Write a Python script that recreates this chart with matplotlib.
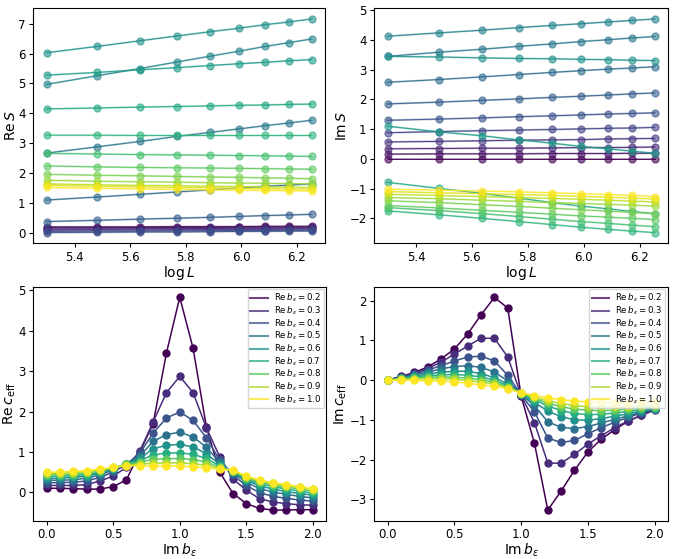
import numpy as np
import matplotlib
import matplotlib.pyplot as plt

matplotlib.use('Agg')

# system sizes, top row x axis is log L
L = [200, 240, 280, 320, 360, 400, 440, 480, 520]

# Re S, one row per Im b (0.0 ... 2.0)
re_S = [
    [0.20, 0.20, 0.20, 0.21, 0.21, 0.21, 0.22, 0.22, 0.22],
    [0.17, 0.17, 0.18, 0.18, 0.18, 0.19, 0.19, 0.19, 0.19],
    [0.13, 0.13, 0.14, 0.14, 0.15, 0.15, 0.15, 0.16, 0.16],
    [0.09, 0.10, 0.10, 0.11, 0.11, 0.12, 0.12, 0.12, 0.13],
    [0.05, 0.06, 0.06, 0.07, 0.07, 0.08, 0.08, 0.09, 0.09],
    [0.01, 0.02, 0.03, 0.03, 0.04, 0.05, 0.05, 0.06, 0.06],
    [0.38, 0.42, 0.46, 0.49, 0.52, 0.55, 0.58, 0.60, 0.62],
    [1.10, 1.20, 1.29, 1.37, 1.44, 1.50, 1.56, 1.60, 1.64],
    [2.67, 2.88, 3.06, 3.23, 3.36, 3.48, 3.59, 3.68, 3.77],
    [4.97, 5.26, 5.50, 5.72, 5.91, 6.08, 6.24, 6.37, 6.49],
    [6.03, 6.24, 6.43, 6.59, 6.73, 6.85, 6.97, 7.06, 7.16],
    [5.28, 5.37, 5.46, 5.53, 5.60, 5.66, 5.71, 5.76, 5.80],
    [4.15, 4.18, 4.21, 4.23, 4.25, 4.27, 4.28, 4.30, 4.31],
    [3.27, 3.27, 3.26, 3.26, 3.26, 3.26, 3.26, 3.26, 3.26],
    [2.66, 2.64, 2.62, 2.61, 2.60, 2.59, 2.58, 2.57, 2.56],
    [2.24, 2.21, 2.19, 2.18, 2.17, 2.16, 2.15, 2.14, 2.13],
    [1.96, 1.93, 1.91, 1.89, 1.87, 1.86, 1.84, 1.83, 1.81],
    [1.76, 1.73, 1.71, 1.70, 1.68, 1.67, 1.66, 1.65, 1.64],
    [1.64, 1.61, 1.59, 1.58, 1.56, 1.55, 1.54, 1.53, 1.52],
    [1.59, 1.56, 1.54, 1.52, 1.51, 1.49, 1.48, 1.47, 1.46],
    [1.52, 1.49, 1.47, 1.46, 1.44, 1.43, 1.42, 1.41, 1.40],
]

# Im S, same rows
im_S = [
    [0.00, 0.00, 0.00, 0.00, 0.00, 0.00, 0.00, 0.00, 0.00],
    [0.16, 0.17, 0.17, 0.17, 0.18, 0.18, 0.18, 0.19, 0.19],
    [0.34, 0.35, 0.36, 0.36, 0.37, 0.38, 0.38, 0.39, 0.40],
    [0.57, 0.59, 0.61, 0.63, 0.64, 0.65, 0.67, 0.68, 0.69],
    [0.88, 0.92, 0.95, 0.97, 0.99, 1.01, 1.03, 1.04, 1.06],
    [1.30, 1.34, 1.38, 1.42, 1.45, 1.48, 1.51, 1.53, 1.55],
    [1.85, 1.91, 1.97, 2.02, 2.07, 2.11, 2.15, 2.19, 2.22],
    [2.58, 2.67, 2.76, 2.84, 2.91, 2.97, 3.02, 3.06, 3.10],
    [3.45, 3.59, 3.69, 3.79, 3.87, 3.95, 4.01, 4.07, 4.12],
    [4.13, 4.24, 4.33, 4.42, 4.49, 4.55, 4.61, 4.66, 4.71],
    [3.45, 3.43, 3.40, 3.38, 3.37, 3.35, 3.34, 3.32, 3.31],
    [1.10, 0.91, 0.78, 0.64, 0.53, 0.42, 0.34, 0.26, 0.19],
    [-0.79, -0.99, -1.16, -1.32, -1.47, -1.59, -1.68, -1.77, -1.84],
    [-1.75, -1.88, -2.00, -2.11, -2.21, -2.30, -2.37, -2.43, -2.48],
    [-1.64, -1.74, -1.84, -1.94, -2.03, -2.11, -2.17, -2.23, -2.28],
    [-1.57, -1.65, -1.73, -1.80, -1.86, -1.92, -1.96, -2.00, -2.04],
    [-1.41, -1.47, -1.54, -1.60, -1.66, -1.71, -1.76, -1.80, -1.84],
    [-1.30, -1.34, -1.39, -1.43, -1.47, -1.50, -1.53, -1.56, -1.59],
    [-1.19, -1.23, -1.27, -1.30, -1.33, -1.36, -1.39, -1.42, -1.45],
    [-1.10, -1.14, -1.17, -1.20, -1.23, -1.26, -1.29, -1.32, -1.35],
    [-1.02, -1.05, -1.08, -1.11, -1.14, -1.17, -1.20, -1.23, -1.27],
]

# bottom row: Im b on x, one curve per Re b
im_b = [0.0, 0.1, 0.2, 0.3, 0.4, 0.5, 0.6, 0.7, 0.8, 0.9, 1.0,
        1.1, 1.2, 1.3, 1.4, 1.5, 1.6, 1.7, 1.8, 1.9, 2.0]
re_b = [0.2, 0.3, 0.4, 0.5, 0.6, 0.7, 0.8, 0.9, 1.0]

# Re c_eff, rows are Im b values, columns Re b
re_c_rows = [
    [0.10, 0.17, 0.24, 0.30, 0.35, 0.40, 0.44, 0.47, 0.50],
    [0.10, 0.17, 0.24, 0.30, 0.35, 0.40, 0.44, 0.47, 0.50],
    [0.09, 0.17, 0.25, 0.31, 0.37, 0.41, 0.45, 0.49, 0.52],
    [0.08, 0.19, 0.28, 0.35, 0.40, 0.44, 0.48, 0.51, 0.54],
    [0.08, 0.28, 0.37, 0.43, 0.47, 0.50, 0.53, 0.55, 0.57],
    [0.14, 0.40, 0.50, 0.55, 0.58, 0.60, 0.61, 0.62, 0.62],
    [0.31, 0.62, 0.69, 0.71, 0.71, 0.70, 0.69, 0.67, 0.66],
    [1.00, 1.02, 0.97, 0.90, 0.84, 0.78, 0.74, 0.70, 0.66],
    [1.70, 1.74, 1.47, 1.26, 1.08, 0.93, 0.82, 0.72, 0.65],
    [3.45, 2.47, 1.84, 1.43, 1.16, 0.97, 0.83, 0.73, 0.65],
    [4.83, 2.87, 1.99, 1.49, 1.19, 0.98, 0.84, 0.73, 0.65],
    [3.57, 2.47, 1.78, 1.37, 1.12, 0.94, 0.81, 0.71, 0.63],
    [1.62, 1.60, 1.35, 1.12, 0.96, 0.84, 0.75, 0.67, 0.61],
    [0.50, 0.88, 0.80, 0.74, 0.69, 0.65, 0.62, 0.59, 0.57],
    [-0.03, 0.33, 0.42, 0.47, 0.50, 0.52, 0.53, 0.54, 0.55],
    [-0.28, 0.05, 0.17, 0.25, 0.30, 0.33, 0.36, 0.38, 0.40],
    [-0.40, -0.16, -0.01, 0.09, 0.16, 0.21, 0.25, 0.28, 0.30],
    [-0.44, -0.24, -0.10, 0.01, 0.08, 0.14, 0.18, 0.22, 0.24],
    [-0.44, -0.28, -0.15, -0.05, 0.02, 0.08, 0.13, 0.16, 0.19],
    [-0.43, -0.31, -0.19, -0.10, -0.03, 0.03, 0.08, 0.12, 0.14],
    [-0.43, -0.32, -0.22, -0.14, -0.07, -0.02, 0.03, 0.07, 0.09],
]

# Im c_eff, one row per Re b
im_c = [
    [0.00, 0.09, 0.19, 0.33, 0.53, 0.78, 1.16, 1.64, 2.08, 1.81, -0.40, -1.59, -3.27, -2.79, -2.27, -1.81, -1.49, -1.25, -1.04, -0.88, -0.74],
    [0.00, 0.08, 0.17, 0.29, 0.45, 0.65, 0.86, 1.05, 1.05, 0.58, -0.38, -1.07, -2.09, -2.09, -1.87, -1.61, -1.40, -1.20, -1.03, -0.89, -0.76],
    [0.00, 0.07, 0.15, 0.25, 0.36, 0.48, 0.58, 0.60, 0.48, 0.12, -0.37, -0.80, -1.46, -1.57, -1.52, -1.35, -1.20, -1.06, -0.94, -0.83, -0.74],
    [0.00, 0.06, 0.13, 0.20, 0.28, 0.34, 0.36, 0.32, 0.20, -0.02, -0.36, -0.64, -1.05, -1.19, -1.22, -1.17, -1.08, -0.99, -0.90, -0.81, -0.73],
    [0.00, 0.05, 0.10, 0.15, 0.20, 0.22, 0.22, 0.16, 0.06, -0.10, -0.35, -0.56, -0.78, -0.92, -1.00, -1.01, -0.97, -0.91, -0.85, -0.78, -0.72],
    [0.00, 0.04, 0.08, 0.11, 0.13, 0.14, 0.12, 0.08, -0.01, -0.14, -0.34, -0.50, -0.65, -0.77, -0.84, -0.87, -0.86, -0.83, -0.79, -0.74, -0.70],
    [0.00, 0.03, 0.05, 0.07, 0.08, 0.07, 0.05, 0.01, -0.06, -0.17, -0.33, -0.46, -0.58, -0.67, -0.73, -0.76, -0.77, -0.76, -0.73, -0.70, -0.67],
    [0.00, 0.02, 0.03, 0.03, 0.03, 0.02, -0.01, -0.05, -0.10, -0.19, -0.32, -0.43, -0.52, -0.59, -0.64, -0.67, -0.69, -0.69, -0.68, -0.66, -0.64],
    [0.00, 0.00, -0.01, -0.02, -0.03, -0.05, -0.08, -0.12, -0.16, -0.22, -0.32, -0.39, -0.45, -0.49, -0.53, -0.55, -0.56, -0.57, -0.57, -0.56, -0.55],
]

logL = np.log(L)
re_c = np.array(re_c_rows).T

top_cols = plt.cm.viridis(np.linspace(0, 1, len(re_S)))
bot_cols = plt.cm.viridis(np.linspace(0, 1, len(re_b)))

fig = plt.figure(figsize=(6.75, 5.59), dpi=100)
ax1 = fig.add_axes([0.0493, 0.5648, 0.432, 0.4204])
ax2 = fig.add_axes([0.5545, 0.5648, 0.435, 0.4204])
ax3 = fig.add_axes([0.0493, 0.0685, 0.434, 0.4186])
ax4 = fig.add_axes([0.5545, 0.0685, 0.435, 0.4186])

lab_fs = 10

# top row
for ax, data in ((ax1, re_S), (ax2, im_S)):
    for k, y in enumerate(data):
        c = top_cols[k]
        ax.plot(logL, y, '-', color=c, lw=1.4, alpha=0.4)
        ax.plot(logL, y, 'o', color=c, ms=5, alpha=0.6)
        ax.plot(logL, y, '-', color=c, lw=0.7, alpha=0.9)
    ax.set_xlabel(r'$\log L$', fontsize=lab_fs, labelpad=0)
    ax.set_xticks([5.4, 5.6, 5.8, 6.0, 6.2])

ax1.set_ylabel(r'$\mathrm{Re}\,S$', fontsize=lab_fs, labelpad=0)
ax2.set_ylabel(r'$\mathrm{Im}\,S$', fontsize=lab_fs, labelpad=0)

# bottom row
for ax, data in ((ax3, re_c), (ax4, im_c)):
    for k, rb in enumerate(re_b):
        c = bot_cols[k]
        ax.plot(im_b, data[k], '-', color=c, lw=1.1,
                label=r'$\mathrm{Re}\,b_\varepsilon = %.1f$' % rb)
        ax.plot(im_b, data[k], 'o', color=c, ms=5)
    ax.set_xlabel(r'$\mathrm{Im}\,b_\varepsilon$', fontsize=lab_fs, labelpad=0)
    ax.set_xticks([0.0, 0.5, 1.0, 1.5, 2.0])
    leg = ax.legend(loc='upper right', fontsize=6.2, labelspacing=0.02,
                    handlelength=2.0, borderpad=0.3, handletextpad=0.7,
                    borderaxespad=0.3)
    for h in leg.get_lines():
        h.set_linewidth(1.5)
        h.set_alpha(0.75)

ax3.set_ylabel(r'$\mathrm{Re}\,c_{\mathrm{eff}}$', fontsize=lab_fs, labelpad=0)
ax4.set_ylabel(r'$\mathrm{Im}\,c_{\mathrm{eff}}$', fontsize=lab_fs, labelpad=0)

for ax in (ax1, ax2, ax3, ax4):
    ax.tick_params(labelsize=8.5, length=3, pad=2.5)

plt.savefig('out.png', dpi=100)
plt.close()
